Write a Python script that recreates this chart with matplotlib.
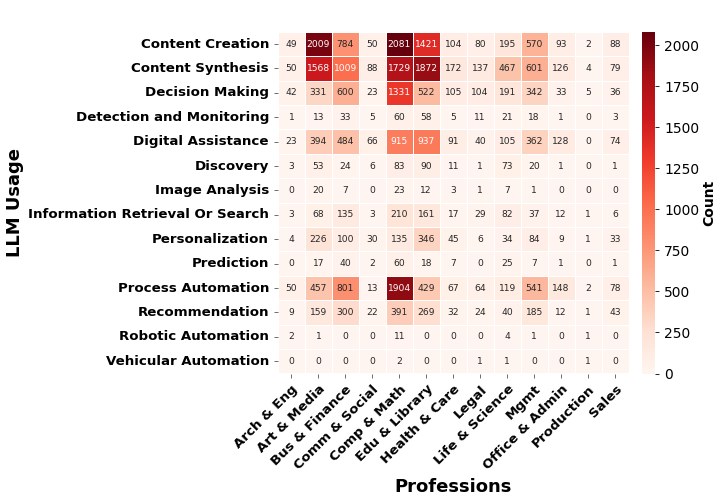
import numpy as np
import pandas as pd
import matplotlib
matplotlib.use('Agg')
import matplotlib.pyplot as plt
import seaborn as sns

usages = ['Content Creation', 'Content Synthesis', 'Decision Making',
          'Detection and Monitoring', 'Digital Assistance', 'Discovery',
          'Image Analysis', 'Information Retrieval Or Search', 'Personalization',
          'Prediction', 'Process Automation', 'Recommendation',
          'Robotic Automation', 'Vehicular Automation']
professions = ['Arch & Eng', 'Art & Media', 'Bus & Finance', 'Comm & Social',
               'Comp & Math', 'Edu & Library', 'Health & Care', 'Legal',
               'Life & Science', 'Mgmt', 'Office & Admin', 'Production', 'Sales']

counts = [
    [49, 2009, 784, 50, 2081, 1421, 104, 80, 195, 570, 93, 2, 88],
    [50, 1568, 1009, 88, 1729, 1872, 172, 137, 467, 601, 126, 4, 79],
    [42, 331, 600, 23, 1331, 522, 105, 104, 191, 342, 33, 5, 36],
    [1, 13, 33, 5, 60, 58, 5, 11, 21, 18, 1, 0, 3],
    [23, 394, 484, 66, 915, 937, 91, 40, 105, 362, 128, 0, 74],
    [3, 53, 24, 6, 83, 90, 11, 1, 73, 20, 1, 0, 1],
    [0, 20, 7, 0, 23, 12, 3, 1, 7, 1, 0, 0, 0],
    [3, 68, 135, 3, 210, 161, 17, 29, 82, 37, 12, 1, 6],
    [4, 226, 100, 30, 135, 346, 45, 6, 34, 84, 9, 1, 33],
    [0, 17, 40, 2, 60, 18, 7, 0, 25, 7, 1, 0, 1],
    [50, 457, 801, 13, 1904, 429, 67, 64, 119, 541, 148, 2, 78],
    [9, 159, 300, 22, 391, 269, 32, 24, 40, 185, 12, 1, 43],
    [2, 1, 0, 0, 11, 0, 0, 0, 4, 1, 0, 1, 0],
    [0, 0, 0, 0, 2, 0, 0, 1, 1, 0, 0, 1, 0],
]

df = pd.DataFrame(counts, index=usages, columns=professions)

fig = plt.figure(figsize=(7.2, 4.98), dpi=100)
ax = fig.add_axes([0.386, 0.25, 0.487, 0.686])
cax = fig.add_axes([0.892, 0.25, 0.018, 0.686])

sns.heatmap(df, ax=ax, cbar_ax=cax, cmap='Reds', annot=True, fmt='d',
            linewidths=0.5, linecolor='white', annot_kws={'size': 6.6},
            cbar_kws={'label': 'Count'})

ax.set_xticklabels(ax.get_xticklabels(), rotation=45, ha='right',
                   rotation_mode='anchor', fontsize=9.6, fontweight='bold')
ax.set_yticklabels(ax.get_yticklabels(), rotation=0, fontsize=9.6,
                   fontweight='bold')
ax.tick_params(length=3, width=0.6, color='#555555')
ax.set_xlabel('Professions', fontsize=13, fontweight='bold', labelpad=4)
ax.set_ylabel('LLM Usage', fontsize=13, fontweight='bold', labelpad=3)

cax.tick_params(labelsize=10, length=3, width=0.6)
cax.set_ylabel('Count', fontsize=10, fontweight='bold', labelpad=2)

fig.savefig('out.png', dpi=100)
